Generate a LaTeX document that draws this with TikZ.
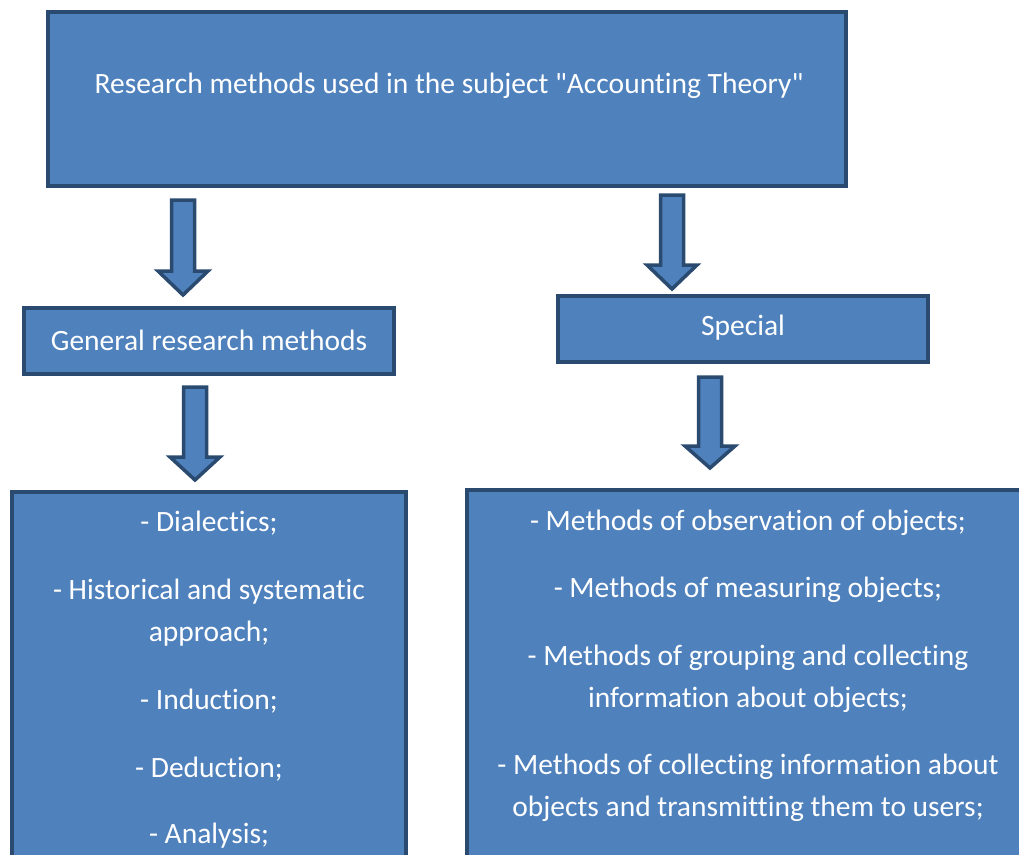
\documentclass[tikz,border=0pt]{standalone}
\usepackage{fontspec}
\newfontfamily\lblfont{Carlito}[Ligatures=NoCommon]
\definecolor{boxfill}{HTML}{4F81BD}
\definecolor{boxline}{HTML}{2A4A70}
\begin{document}
\begin{tikzpicture}[x=1pt,y=-1pt,
  blockbox/.style={draw=boxline,fill=boxfill,line width=4pt},
  blockarrow/.style={draw=boxline,fill=boxfill,line width=3.5pt,line join=miter},
  lbl/.style={text=white,font=\lblfont\fontsize{29.5}{34}\selectfont,inner sep=0pt,anchor=center}]
\useasboundingbox (0,0) rectangle (1019,854);
\clip (0,0) rectangle (1019,854);
% boxes
\draw[blockbox] (48,12) rectangle (846,186);
\draw[blockbox] (24,308) rectangle (394,374);
\draw[blockbox] (558,296) rectangle (928,362);
\draw[blockbox] (12,492) rectangle (406,880);
\draw[blockbox] (467,490) rectangle (1040,880);
% block arrows: \barrow{centre x}{top}{head base}{tip}
\newcommand{\barrow}[4]{%
  \draw[blockarrow] (#1-11.5,#2) -- (#1+11.5,#2) -- (#1+11.5,#3) -- (#1+25,#3)
    -- (#1,#4) -- (#1-25,#3) -- (#1-11.5,#3) -- cycle;}
\barrow{183}{200}{271}{295}
\barrow{672}{195}{265}{289}
\barrow{195}{387}{457}{480}
\barrow{710}{377}{446}{468}
% labels
\node[lbl] (top) at (449,86) {Research methods used in the subject "Accounting Theory"};
\node[lbl] (gen) at (209,340) {General research methods};
\node[lbl] (spec) at (743,328) {Special};
\node[lbl] (g1) at (209,523) {- Dialectics;};
\node[lbl] (g2) at (209,592) {- Historical and systematic};
\node[lbl] (g2b) at (209,634) {approach;};
\node[lbl] (g3) at (209,701) {- Induction;};
\node[lbl] (g4) at (209,769) {- Deduction;};
\node[lbl] (g5) at (209,836) {- Analysis;};
\node[lbl] (s1) at (748,523) {- Methods of observation of objects;};
\node[lbl] (s2) at (748,590) {- Methods of measuring objects;};
\node[lbl] (s3) at (748,658) {- Methods of grouping and collecting};
\node[lbl] (s3b) at (748,700) {information about objects;};
\node[lbl] (s4) at (748,767) {- Methods of collecting information about};
\node[lbl] (s4b) at (748,809) {objects and transmitting them to users;};
\end{tikzpicture}
\end{document}
